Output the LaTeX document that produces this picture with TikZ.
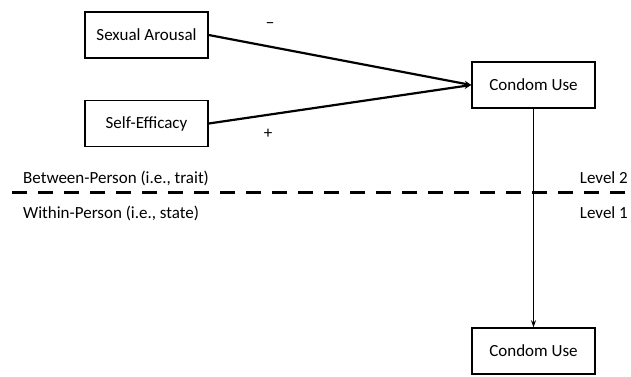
\documentclass[tikz,border=0pt]{standalone}
\usepackage{fontspec}
\setmainfont{Carlito}
\usetikzlibrary{arrows.meta}
\begin{document}
\begin{tikzpicture}[x=1pt,y=-1pt,
  box/.style={draw,line width=1.5pt,minimum width=123pt,minimum height=46pt,inner sep=0pt,font=\fontsize{17}{19}\selectfont},
  lbl/.style={font=\fontsize{17}{19}\selectfont,inner sep=0pt},
  path/.style={line width=2.2pt,-{Stealth[length=7pt,width=6pt]}},
  vpath/.style={line width=1.8pt,-{Stealth[length=7pt,width=5pt]}}]
\useasboundingbox (0,0) rectangle (631,376);
\node[box] (sa) at (146.5,35) {Sexual Arousal};
\node[box] (se) at (146.5,123.5) {Self-Efficacy};
\node[box] (cu1) at (533.5,85) {Condom Use};
\node[box] (cu2) at (533.5,351) {Condom Use};
\draw[path] (sa.east) -- (cu1.west);
\draw[path] (se.east) -- (cu1.west);
\draw[vpath] (cu1.south) -- (cu2.north);
\node[lbl] (minus) at (270,26) {−};
\node[lbl] (plus) at (268,134) {+};
\coordinate (dl) at (12,192);
\coordinate (dr) at (631,192);
\draw[line width=3pt,dash pattern=on 15pt off 11pt] (dl) -- (dr);
\node[lbl,anchor=west] (bp) at (23,178) {Between-Person (i.e., trait)};
\node[lbl,anchor=west] (wp) at (23,213) {Within-Person (i.e., state)};
\node[lbl,anchor=east] (l2) at (628,178) {Level 2};
\node[lbl,anchor=east] (l1) at (628,213) {Level 1};
\end{tikzpicture}
\end{document}
